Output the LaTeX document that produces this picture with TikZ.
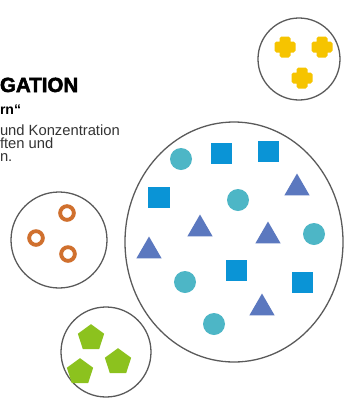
\documentclass[tikz,border=0pt]{standalone}
\usepackage{fontspec}
\setmainfont{Liberation Sans}
\newfontfamily\titlefont[FakeBold=2.5]{Liberation Sans Bold}
\usetikzlibrary{shapes.geometric}

\definecolor{rimgray}{HTML}{5A5A5A}
\definecolor{dotteal}{HTML}{4DB6C6}
\definecolor{sqblue}{HTML}{0A94D6}
\definecolor{triblue}{HTML}{5B78BF}
\definecolor{ringorange}{HTML}{D0702E}
\definecolor{pentgreen}{HTML}{8CC21E}
\definecolor{plusyellow}{HTML}{F6C400}
\definecolor{bodygray}{HTML}{333333}

\begin{document}
\begin{tikzpicture}[x=0.03cm, y=-0.03cm,
      every node/.style={inner sep=0pt, outer sep=0pt},
      pool/.style={draw=rimgray, line width=1.1pt, fill=white},
      dot/.style={circle, fill=dotteal, minimum size=0.66cm},
      sq/.style={rectangle, fill=sqblue, minimum size=0.63cm},
      tri/.style={regular polygon, regular polygon sides=3, fill=triblue, minimum size=0.87cm},
      ring/.style={circle, draw=ringorange, line width=3.3pt, minimum size=0.41cm},
      penta/.style={regular polygon, regular polygon sides=5, fill=pentgreen, minimum size=0.83cm},
      plusmark/.style={minimum size=0.63cm, path picture={
          \fill[plusyellow, shift={(path picture bounding box.center)}, rounded corners=1.5pt]
            (-0.315cm,-0.165cm) rectangle (0.315cm,0.165cm)
            (-0.165cm,-0.315cm) rectangle (0.165cm,0.315cm);}},
      headline/.style={anchor=base west, font=\fontsize{17.5}{20}\titlefont},
      bodyline/.style={anchor=base west, text=bodygray, font=\fontsize{12.6}{14}\selectfont}
    ]
    \useasboundingbox (0,0) rectangle (345,410);

    % text at the left edge
    \node[headline] (head) at (0,92) {GATION};
    \node[bodyline, font=\fontsize{12}{14}\selectfont\bfseries, text=black] (quote) at (0,114) {rn“};
    \node[bodyline] (line1) at (0,135) {und Konzentration};
    \node[bodyline] (line2) at (0,148) {ften und};
    \node[bodyline] (line3) at (0,161) {n.};

    % the big pool
    \node[pool, ellipse, minimum width=6.54cm, minimum height=7.2cm] (big) at (234,242) {};
    \foreach \n/\x/\y in {1/181/159, 2/238/200, 3/314/234, 4/185/282, 5/214/324}
      \node[dot] (d\n) at (\x,\y) {};
    \foreach \n/\x/\y in {1/221/153, 2/268/151, 3/159/197, 4/236/270, 5/302/282}
      \node[sq] (s\n) at (\x,\y) {};
    \foreach \n/\x/\y in {1/297/188, 2/200/229, 3/268/236, 4/149/251, 5/262/308}
      \node[tri] (t\n) at (\x,\y) {};

    % small pools
    \node[pool, circle, minimum size=2.46cm] (yellowpool) at (299,59) {};
    \foreach \n/\x/\y in {1/285/47, 2/322/47, 3/302/78}
      \node[plusmark] (p\n) at (\x,\y) {};

    \node[pool, circle, minimum size=2.88cm] (orangepool) at (59,240) {};
    \foreach \n/\x/\y in {1/67/213, 2/36/238, 3/68/254}
      \node[ring] (r\n) at (\x,\y) {};

    \node[pool, circle, minimum size=2.7cm] (greenpool) at (106,352) {};
    \foreach \n/\x/\y in {1/91/338, 2/118/362, 3/80/372}
      \node[penta] (g\n) at (\x,\y) {};

    \end{tikzpicture}
\end{document}
